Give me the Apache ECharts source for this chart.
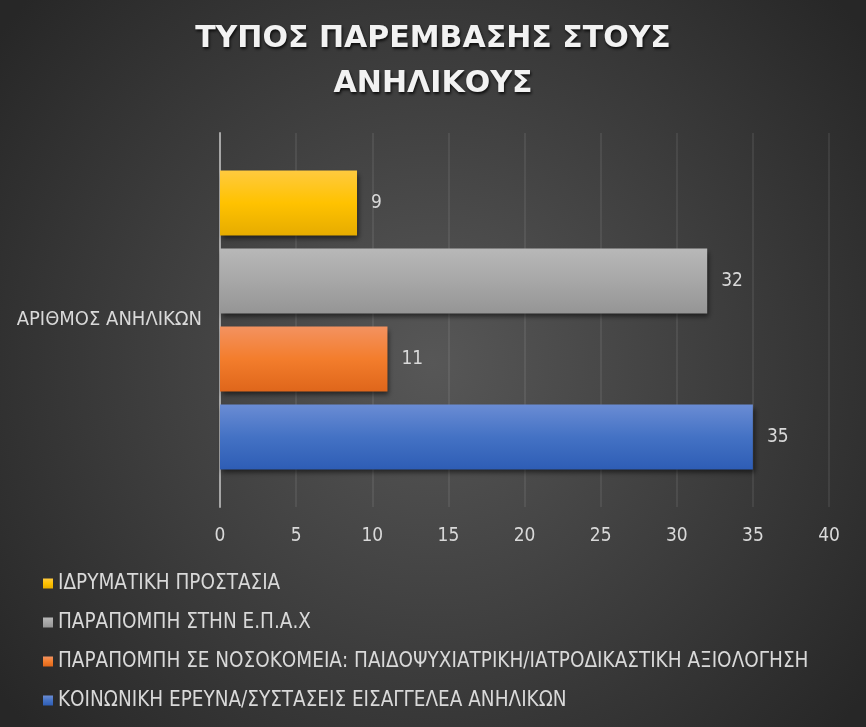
<!DOCTYPE html>
<html>
<head>
<meta charset="utf-8">
<script src="https://cdn.jsdelivr.net/npm/echarts@6/dist/echarts.min.js"></script>
<style>
  html, body { margin: 0; padding: 0; }
  #main { width: 866px; height: 727px; }
</style>
</head>
<body>
<div id="main"></div>
<script>
// data
let titleText = 'ΤΥΠΟΣ ΠΑΡΕΜΒΑΣΗΣ ΣΤΟΥΣ\nΑΝΗΛΙΚΟΥΣ'
let categories = ['ΑΡΙΘΜΟΣ ΑΝΗΛΙΚΩΝ']
let seriesNames = [
    'ΙΔΡΥΜΑΤΙΚΗ ΠΡΟΣΤΑΣΙΑ',
    'ΠΑΡΑΠΟΜΠΗ ΣΤΗΝ Ε.Π.Α.Χ',
    'ΠΑΡΑΠΟΜΠΗ ΣΕ ΝΟΣΟΚΟΜΕΙΑ: ΠΑΙΔΟΨΥΧΙΑΤΡΙΚΗ/ΙΑΤΡΟΔΙΚΑΣΤΙΚΗ ΑΞΙΟΛΟΓΗΣΗ',
    'ΚΟΙΝΩΝΙΚΗ ΕΡΕΥΝΑ/ΣΥΣΤΑΣΕΙΣ ΕΙΣΑΓΓΕΛΕΑ ΑΝΗΛΙΚΩΝ'
]
let seriesValues = [9, 32, 11, 35]

// colour stops per series (top, middle, bottom)
let barColors = [
    ['#ffca3f', '#ffc200', '#e6ac00'],
    ['#b8b8b8', '#a7a7a7', '#959595'],
    ['#f39260', '#f37d2c', '#df661b'],
    ['#6a8cd4', '#4472c4', '#2e5db5']
]

function grad(c) {
    return {
        type: 'linear', x: 0, y: 0, x2: 0, y2: 1,
        colorStops: [
            { offset: 0, color: c[0] },
            { offset: 0.5, color: c[1] },
            { offset: 1, color: c[2] }
        ]
    }
}

let labelFont = '"DejaVu Sans Condensed", "DejaVu Sans", sans-serif'
let textColor = '#d9d9d9'

var myChart = echarts.init(document.getElementById('main'))
var option = {
    backgroundColor: {
        type: 'radial', x: 0.5, y: 0.5, r: 0.75,
        colorStops: [
            { offset: 0, color: '#575757' },
            { offset: 1, color: '#272727' }
        ]
    },
    title: {
        text: titleText,
        left: 'center',
        top: 12,
        textStyle: {
            color: '#f2f2f2',
            fontFamily: '"DejaVu Sans", sans-serif',
            fontWeight: 'bold',
            fontSize: 30,
            lineHeight: 45,
            textShadowColor: 'rgba(0,0,0,0.8)',
            textShadowBlur: 3,
            textShadowOffsetX: 1,
            textShadowOffsetY: 2
        }
    },
    grid: {
        left: 220,
        right: 37,
        top: 133,
        bottom: 220,
        containLabel: false
    },
    legend: {
        orient: 'vertical',
        left: 38,
        top: 568,
        bottom: 0,
        itemWidth: 10,
        itemHeight: 10,
        itemGap: 18,
        icon: 'rect',
        textStyle: {
            color: textColor,
            fontFamily: labelFont,
            fontSize: 20.5
        }
    },
    xAxis: {
        type: 'value',
        min: 0,
        max: 40,
        interval: 5,
        axisLine: { show: false },
        axisTick: { show: false },
        splitLine: {
            show: true,
            lineStyle: { color: 'rgba(255,255,255,0.1)', width: 1.5 }
        },
        axisLabel: {
            color: textColor,
            fontFamily: labelFont,
            fontSize: 19,
            margin: 20
        }
    },
    yAxis: {
        type: 'category',
        data: categories,
        axisTick: { show: false },
        axisLine: {
            show: true,
            lineStyle: { color: '#a6a6a6', width: 2 }
        },
        axisLabel: {
            color: textColor,
            fontFamily: labelFont,
            fontSize: 20,
            margin: 18
        }
    },
    series: seriesNames.map(function (name, i) {
        return {
            name: name,
            type: 'bar',
            data: [seriesValues[i]],
            barWidth: 65,
            barGap: '20%',
            itemStyle: {
                color: grad(barColors[i]),
                shadowColor: 'rgba(0,0,0,0.55)',
                shadowBlur: 5,
                shadowOffsetX: 2,
                shadowOffsetY: 3
            },
            label: {
                show: true,
                position: 'right',
                distance: 14,
                color: textColor,
                fontFamily: labelFont,
                fontSize: 19
            }
        }
    })
}
option && myChart.setOption(option)
</script>
</body>
</html>
